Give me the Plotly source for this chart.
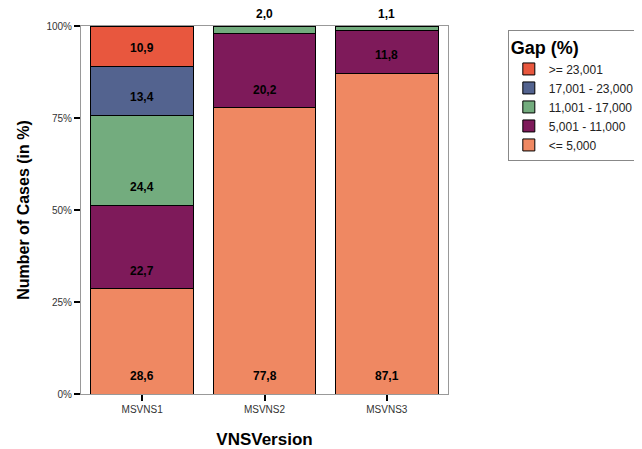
import plotly.graph_objects as go

categories = ["MSVNS1", "MSVNS2", "MSVNS3"]
series_names = ["<= 5,000", "5,001 - 11,000", "11,001 - 17,000", "17,001 - 23,000", ">= 23,001"]
le_5000 = [28.6, 77.8, 87.1]
r5001_11000 = [22.7, 20.2, 11.8]
r11001_17000 = [24.4, 2.0, 1.1]
r17001_23000 = [13.4, 0.0, 0.0]
ge_23001 = [10.9, 0.0, 0.0]
colors = ["#EF8862", "#7E1A5A", "#73AC7E", "#53638F", "#E8573E"]
y_ticks = [0, 25, 50, 75, 100]

series = [le_5000, r5001_11000, r11001_17000, r17001_23000, ge_23001]

fig = go.Figure()
annotations = []
base = [0.0] * len(categories)
for name, vals, col in zip(series_names, series, colors):
    fig.add_trace(go.Bar(
        x=categories, y=vals, name=name,
        marker=dict(color=col, line=dict(color="black", width=1)),
        hoverinfo="skip",
    ))
    for i, (c, v) in enumerate(zip(categories, vals)):
        label = "<b>" + f"{v:.1f}".replace(".", ",") + "</b>"
        if v >= 5:
            annotations.append(dict(x=c, y=base[i], xref="x", yref="y", yshift=18,
                                    showarrow=False, text=label,
                                    font=dict(family="Arial", size=12, color="black")))
        elif v > 0:
            annotations.append(dict(x=c, y=100, xref="x", yref="y", yshift=12,
                                    showarrow=False, text=label,
                                    font=dict(family="Arial", size=12, color="black")))
        base[i] += v

fig.update_layout(
    barmode="stack", bargap=0.16,
    width=634, height=441,
    margin=dict(l=73, r=194, t=18, b=55, autoexpand=False),
    paper_bgcolor="white", plot_bgcolor="white",
    font=dict(family="Arial", color="#222"),
    annotations=annotations,
    showlegend=True,
    legend=dict(
        x=1.163, y=0.989, xanchor="left", yanchor="top",
        traceorder="reversed",
        title=dict(text="<b>Gap (%)</b>", font=dict(family="Arial", size=18, color="black")),
        font=dict(family="Arial", size=12, color="#222"),
        bordercolor="#888", borderwidth=1,
        tracegroupgap=0,
    ),
    xaxis=dict(
        range=[-0.5, 2.5], automargin=False,
        title=dict(text="<b>VNSVersion</b>", font=dict(family="Arial", size=17, color="black"), standoff=22),
        tickfont=dict(family="Arial", size=10, color="#333"),
        ticks="outside", ticklen=6, tickwidth=2, tickcolor="black",
        showline=True, linecolor="#999", linewidth=1, mirror=True,
    ),
    yaxis=dict(
        range=[0, 100], automargin=False,
        tickvals=y_ticks, ticktext=[f"{t}%" for t in y_ticks],
        title=dict(text="<b>Number of Cases (in %)</b>", font=dict(family="Arial", size=16, color="black"), standoff=12),
        tickfont=dict(family="Arial", size=10, color="#333"),
        ticks="outside", ticklen=6, tickwidth=2, tickcolor="black",
        showline=True, linecolor="#999", linewidth=1, mirror=True,
        showgrid=False, zeroline=False,
    ),
)

fig.write_html("out.html")
